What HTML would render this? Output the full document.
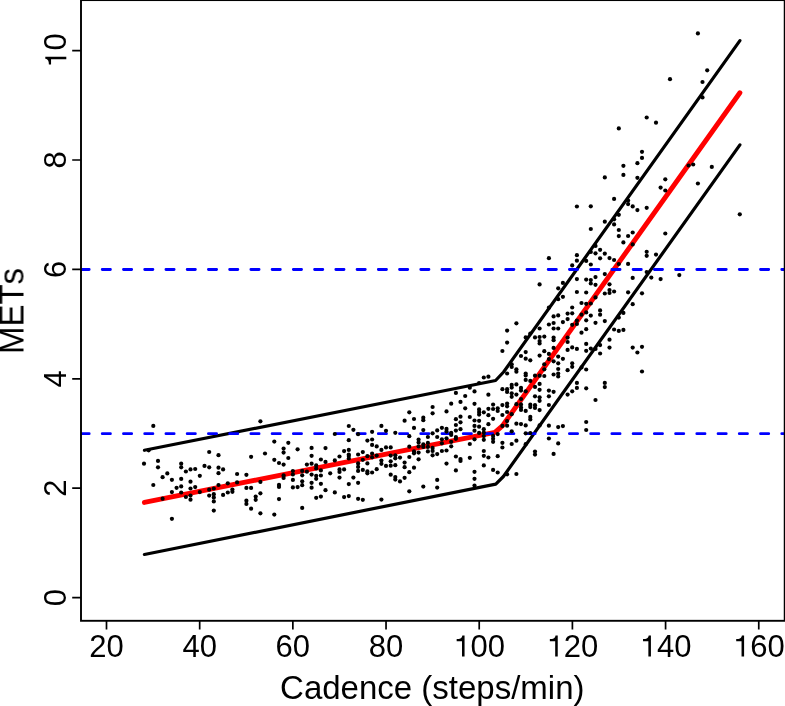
<!DOCTYPE html>
<html><head><meta charset="utf-8"><style>
html,body{margin:0;padding:0;background:#fff;width:785px;height:706px;overflow:hidden;font-family:"Liberation Sans",sans-serif;}
svg{display:block;}
text{font-kerning:none;}
.t{will-change:transform;}
</style></head><body>
<svg width="785" height="706" viewBox="0 0 785 706"><rect x="0" y="0" width="785" height="706" fill="#fff"/>
<defs><clipPath id="c"><rect x="81.0" y="0.1" width="703.7" height="620.6999999999999"/></clipPath></defs>
<g clip-path="url(#c)" fill="none" stroke-linecap="round" stroke-linejoin="round">
<polyline points="144.40,450.30 495.60,380.50 503.60,372.00 739.90,40.65" stroke="#000" stroke-width="3.2"/>
<polyline points="144.40,554.50 495.80,484.10 503.40,476.50 739.90,144.85" stroke="#000" stroke-width="3.2"/>
<polyline points="144.40,502.40 494.90,432.30 502.40,425.80 739.90,92.75" stroke="#f00" stroke-width="4.9"/>
<line x1="81.0" y1="433.70" x2="804.7" y2="433.70" stroke="#00f" stroke-width="2.8" stroke-dasharray="8.2 13.035"/>
<line x1="81.0" y1="269.50" x2="804.7" y2="269.50" stroke="#00f" stroke-width="2.8" stroke-dasharray="8.2 13.035"/>
</g>
<g fill="#000" clip-path="url(#c)"><circle cx="153.3" cy="425.9" r="2.1"/><circle cx="148.7" cy="450.3" r="2.1"/><circle cx="144.0" cy="463.7" r="2.1"/><circle cx="158.0" cy="460.9" r="2.1"/><circle cx="158.0" cy="467.3" r="2.1"/><circle cx="153.3" cy="485.0" r="2.1"/><circle cx="162.6" cy="477.2" r="2.1"/><circle cx="167.3" cy="473.4" r="2.1"/><circle cx="171.9" cy="479.8" r="2.1"/><circle cx="171.9" cy="492.1" r="2.1"/><circle cx="162.6" cy="498.7" r="2.1"/><circle cx="181.2" cy="463.7" r="2.1"/><circle cx="181.2" cy="467.3" r="2.1"/><circle cx="181.2" cy="478.9" r="2.1"/><circle cx="181.2" cy="486.4" r="2.1"/><circle cx="181.2" cy="492.5" r="2.1"/><circle cx="176.6" cy="487.8" r="2.1"/><circle cx="185.9" cy="471.5" r="2.1"/><circle cx="190.5" cy="469.4" r="2.1"/><circle cx="195.2" cy="469.0" r="2.1"/><circle cx="190.5" cy="481.7" r="2.1"/><circle cx="190.5" cy="488.5" r="2.1"/><circle cx="190.5" cy="495.6" r="2.1"/><circle cx="185.9" cy="497.0" r="2.1"/><circle cx="195.2" cy="487.1" r="2.1"/><circle cx="199.8" cy="475.8" r="2.1"/><circle cx="199.8" cy="492.1" r="2.1"/><circle cx="204.5" cy="465.9" r="2.1"/><circle cx="209.2" cy="467.3" r="2.1"/><circle cx="209.2" cy="452.0" r="2.1"/><circle cx="218.5" cy="455.2" r="2.1"/><circle cx="218.5" cy="467.7" r="2.1"/><circle cx="223.1" cy="469.4" r="2.1"/><circle cx="218.5" cy="473.2" r="2.1"/><circle cx="218.5" cy="485.0" r="2.1"/><circle cx="209.2" cy="489.7" r="2.1"/><circle cx="213.8" cy="488.5" r="2.1"/><circle cx="209.2" cy="495.6" r="2.1"/><circle cx="213.8" cy="494.2" r="2.1"/><circle cx="213.8" cy="497.4" r="2.1"/><circle cx="223.1" cy="494.9" r="2.1"/><circle cx="227.8" cy="483.3" r="2.1"/><circle cx="227.8" cy="492.5" r="2.1"/><circle cx="190.5" cy="499.7" r="2.1"/><circle cx="171.9" cy="518.8" r="2.1"/><circle cx="213.8" cy="510.6" r="2.1"/><circle cx="213.8" cy="501.4" r="2.1"/><circle cx="260.4" cy="421.3" r="2.1"/><circle cx="274.3" cy="441.6" r="2.1"/><circle cx="288.3" cy="442.8" r="2.1"/><circle cx="283.6" cy="448.6" r="2.1"/><circle cx="283.6" cy="452.6" r="2.1"/><circle cx="297.6" cy="449.3" r="2.1"/><circle cx="265.0" cy="453.5" r="2.1"/><circle cx="251.1" cy="456.8" r="2.1"/><circle cx="274.3" cy="459.8" r="2.1"/><circle cx="279.0" cy="463.0" r="2.1"/><circle cx="283.6" cy="464.6" r="2.1"/><circle cx="288.3" cy="458.0" r="2.1"/><circle cx="237.1" cy="474.0" r="2.1"/><circle cx="246.4" cy="474.8" r="2.1"/><circle cx="237.1" cy="482.4" r="2.1"/><circle cx="260.4" cy="481.9" r="2.1"/><circle cx="283.6" cy="475.4" r="2.1"/><circle cx="283.6" cy="477.9" r="2.1"/><circle cx="292.9" cy="471.0" r="2.1"/><circle cx="292.9" cy="474.5" r="2.1"/><circle cx="292.9" cy="479.9" r="2.1"/><circle cx="232.4" cy="489.6" r="2.1"/><circle cx="232.4" cy="491.8" r="2.1"/><circle cx="246.4" cy="487.9" r="2.1"/><circle cx="251.1" cy="487.9" r="2.1"/><circle cx="260.4" cy="493.3" r="2.1"/><circle cx="255.7" cy="496.6" r="2.1"/><circle cx="255.7" cy="499.8" r="2.1"/><circle cx="246.4" cy="500.7" r="2.1"/><circle cx="246.4" cy="503.9" r="2.1"/><circle cx="251.1" cy="508.7" r="2.1"/><circle cx="260.4" cy="513.3" r="2.1"/><circle cx="274.3" cy="514.6" r="2.1"/><circle cx="279.0" cy="484.9" r="2.1"/><circle cx="279.0" cy="486.9" r="2.1"/><circle cx="279.0" cy="499.1" r="2.1"/><circle cx="292.9" cy="487.4" r="2.1"/><circle cx="297.6" cy="487.1" r="2.1"/><circle cx="348.8" cy="426.0" r="2.1"/><circle cx="353.4" cy="429.8" r="2.1"/><circle cx="334.8" cy="434.0" r="2.1"/><circle cx="358.1" cy="434.2" r="2.1"/><circle cx="348.8" cy="440.2" r="2.1"/><circle cx="367.4" cy="440.6" r="2.1"/><circle cx="311.6" cy="447.9" r="2.1"/><circle cx="325.5" cy="448.1" r="2.1"/><circle cx="344.1" cy="451.1" r="2.1"/><circle cx="348.8" cy="449.9" r="2.1"/><circle cx="348.8" cy="454.5" r="2.1"/><circle cx="362.8" cy="452.1" r="2.1"/><circle cx="358.1" cy="454.5" r="2.1"/><circle cx="311.6" cy="455.8" r="2.1"/><circle cx="339.5" cy="456.5" r="2.1"/><circle cx="348.8" cy="456.0" r="2.1"/><circle cx="348.8" cy="458.5" r="2.1"/><circle cx="367.4" cy="456.2" r="2.1"/><circle cx="320.9" cy="459.5" r="2.1"/><circle cx="325.5" cy="461.9" r="2.1"/><circle cx="334.8" cy="460.4" r="2.1"/><circle cx="306.9" cy="464.6" r="2.1"/><circle cx="311.6" cy="463.7" r="2.1"/><circle cx="316.2" cy="465.4" r="2.1"/><circle cx="316.2" cy="468.4" r="2.1"/><circle cx="320.9" cy="470.4" r="2.1"/><circle cx="302.2" cy="470.9" r="2.1"/><circle cx="302.2" cy="475.3" r="2.1"/><circle cx="306.9" cy="471.7" r="2.1"/><circle cx="311.6" cy="474.6" r="2.1"/><circle cx="316.2" cy="475.8" r="2.1"/><circle cx="316.2" cy="478.8" r="2.1"/><circle cx="320.9" cy="475.5" r="2.1"/><circle cx="330.2" cy="473.3" r="2.1"/><circle cx="339.5" cy="469.4" r="2.1"/><circle cx="339.5" cy="471.9" r="2.1"/><circle cx="344.1" cy="469.4" r="2.1"/><circle cx="339.5" cy="477.6" r="2.1"/><circle cx="353.4" cy="477.6" r="2.1"/><circle cx="358.1" cy="463.4" r="2.1"/><circle cx="358.1" cy="466.9" r="2.1"/><circle cx="358.1" cy="470.9" r="2.1"/><circle cx="362.8" cy="459.8" r="2.1"/><circle cx="362.8" cy="469.9" r="2.1"/><circle cx="367.4" cy="463.4" r="2.1"/><circle cx="367.4" cy="471.4" r="2.1"/><circle cx="367.4" cy="473.3" r="2.1"/><circle cx="302.2" cy="481.3" r="2.1"/><circle cx="302.2" cy="485.2" r="2.1"/><circle cx="311.6" cy="482.8" r="2.1"/><circle cx="311.6" cy="487.7" r="2.1"/><circle cx="320.9" cy="483.8" r="2.1"/><circle cx="325.5" cy="490.2" r="2.1"/><circle cx="334.8" cy="492.4" r="2.1"/><circle cx="348.8" cy="484.1" r="2.1"/><circle cx="358.1" cy="482.8" r="2.1"/><circle cx="316.2" cy="497.8" r="2.1"/><circle cx="320.9" cy="496.6" r="2.1"/><circle cx="344.1" cy="497.1" r="2.1"/><circle cx="348.8" cy="496.1" r="2.1"/><circle cx="358.1" cy="498.8" r="2.1"/><circle cx="362.8" cy="499.8" r="2.1"/><circle cx="302.2" cy="507.9" r="2.1"/><circle cx="432.6" cy="407.0" r="2.1"/><circle cx="432.6" cy="413.3" r="2.1"/><circle cx="409.3" cy="412.3" r="2.1"/><circle cx="414.0" cy="419.0" r="2.1"/><circle cx="423.3" cy="417.7" r="2.1"/><circle cx="423.3" cy="420.2" r="2.1"/><circle cx="404.6" cy="420.7" r="2.1"/><circle cx="381.4" cy="425.9" r="2.1"/><circle cx="414.0" cy="427.9" r="2.1"/><circle cx="372.1" cy="431.8" r="2.1"/><circle cx="386.0" cy="430.8" r="2.1"/><circle cx="395.3" cy="432.8" r="2.1"/><circle cx="423.3" cy="430.1" r="2.1"/><circle cx="432.6" cy="433.3" r="2.1"/><circle cx="437.2" cy="430.4" r="2.1"/><circle cx="409.3" cy="436.2" r="2.1"/><circle cx="427.9" cy="437.0" r="2.1"/><circle cx="437.2" cy="437.0" r="2.1"/><circle cx="372.1" cy="439.5" r="2.1"/><circle cx="418.6" cy="439.5" r="2.1"/><circle cx="418.6" cy="442.4" r="2.1"/><circle cx="418.6" cy="446.4" r="2.1"/><circle cx="423.3" cy="444.4" r="2.1"/><circle cx="423.3" cy="446.9" r="2.1"/><circle cx="427.9" cy="442.9" r="2.1"/><circle cx="427.9" cy="446.9" r="2.1"/><circle cx="372.1" cy="444.9" r="2.1"/><circle cx="376.7" cy="446.4" r="2.1"/><circle cx="381.4" cy="449.9" r="2.1"/><circle cx="386.0" cy="447.4" r="2.1"/><circle cx="390.7" cy="447.4" r="2.1"/><circle cx="409.3" cy="446.7" r="2.1"/><circle cx="432.6" cy="447.9" r="2.1"/><circle cx="432.6" cy="450.9" r="2.1"/><circle cx="427.9" cy="451.4" r="2.1"/><circle cx="414.0" cy="451.4" r="2.1"/><circle cx="414.0" cy="453.3" r="2.1"/><circle cx="418.6" cy="452.6" r="2.1"/><circle cx="432.6" cy="455.3" r="2.1"/><circle cx="437.2" cy="454.1" r="2.1"/><circle cx="372.1" cy="453.6" r="2.1"/><circle cx="372.1" cy="457.3" r="2.1"/><circle cx="376.7" cy="455.6" r="2.1"/><circle cx="390.7" cy="455.6" r="2.1"/><circle cx="395.3" cy="455.3" r="2.1"/><circle cx="395.3" cy="458.3" r="2.1"/><circle cx="400.0" cy="457.6" r="2.1"/><circle cx="409.3" cy="457.0" r="2.1"/><circle cx="418.6" cy="459.3" r="2.1"/><circle cx="381.4" cy="460.6" r="2.1"/><circle cx="381.4" cy="463.8" r="2.1"/><circle cx="390.7" cy="461.3" r="2.1"/><circle cx="390.7" cy="465.7" r="2.1"/><circle cx="386.0" cy="465.9" r="2.1"/><circle cx="395.3" cy="465.2" r="2.1"/><circle cx="404.6" cy="462.6" r="2.1"/><circle cx="404.6" cy="467.2" r="2.1"/><circle cx="414.0" cy="467.7" r="2.1"/><circle cx="376.7" cy="469.2" r="2.1"/><circle cx="372.1" cy="472.5" r="2.1"/><circle cx="409.3" cy="472.2" r="2.1"/><circle cx="390.7" cy="474.7" r="2.1"/><circle cx="395.3" cy="477.1" r="2.1"/><circle cx="395.3" cy="479.6" r="2.1"/><circle cx="400.0" cy="481.4" r="2.1"/><circle cx="404.6" cy="477.8" r="2.1"/><circle cx="437.2" cy="479.9" r="2.1"/><circle cx="423.3" cy="486.6" r="2.1"/><circle cx="437.2" cy="487.6" r="2.1"/><circle cx="409.3" cy="491.3" r="2.1"/><circle cx="381.4" cy="499.6" r="2.1"/><circle cx="507.1" cy="330.6" r="2.1"/><circle cx="507.1" cy="342.6" r="2.1"/><circle cx="507.1" cy="373.5" r="2.1"/><circle cx="507.1" cy="389.2" r="2.1"/><circle cx="507.1" cy="391.9" r="2.1"/><circle cx="507.1" cy="403.6" r="2.1"/><circle cx="507.1" cy="406.3" r="2.1"/><circle cx="507.1" cy="412.0" r="2.1"/><circle cx="507.1" cy="474.3" r="2.1"/><circle cx="507.1" cy="421.1" r="2.1"/><circle cx="507.1" cy="425.7" r="2.1"/><circle cx="502.4" cy="351.0" r="2.1"/><circle cx="502.4" cy="389.2" r="2.1"/><circle cx="502.4" cy="405.1" r="2.1"/><circle cx="502.4" cy="415.0" r="2.1"/><circle cx="502.4" cy="425.9" r="2.1"/><circle cx="502.4" cy="442.8" r="2.1"/><circle cx="502.4" cy="447.5" r="2.1"/><circle cx="483.8" cy="377.5" r="2.1"/><circle cx="483.8" cy="412.3" r="2.1"/><circle cx="483.8" cy="429.2" r="2.1"/><circle cx="483.8" cy="432.6" r="2.1"/><circle cx="483.8" cy="436.1" r="2.1"/><circle cx="483.8" cy="439.8" r="2.1"/><circle cx="483.8" cy="451.0" r="2.1"/><circle cx="483.8" cy="455.8" r="2.1"/><circle cx="483.8" cy="465.4" r="2.1"/><circle cx="488.4" cy="376.7" r="2.1"/><circle cx="488.4" cy="394.7" r="2.1"/><circle cx="488.4" cy="408.8" r="2.1"/><circle cx="488.4" cy="415.2" r="2.1"/><circle cx="488.4" cy="424.2" r="2.1"/><circle cx="488.4" cy="457.5" r="2.1"/><circle cx="479.1" cy="383.0" r="2.1"/><circle cx="479.1" cy="409.4" r="2.1"/><circle cx="479.1" cy="412.0" r="2.1"/><circle cx="479.1" cy="414.6" r="2.1"/><circle cx="479.1" cy="420.8" r="2.1"/><circle cx="479.1" cy="426.7" r="2.1"/><circle cx="479.1" cy="432.9" r="2.1"/><circle cx="455.9" cy="392.9" r="2.1"/><circle cx="455.9" cy="419.2" r="2.1"/><circle cx="455.9" cy="425.0" r="2.1"/><circle cx="455.9" cy="430.6" r="2.1"/><circle cx="455.9" cy="437.1" r="2.1"/><circle cx="455.9" cy="438.8" r="2.1"/><circle cx="455.9" cy="456.5" r="2.1"/><circle cx="455.9" cy="470.4" r="2.1"/><circle cx="465.2" cy="396.0" r="2.1"/><circle cx="465.2" cy="408.3" r="2.1"/><circle cx="460.5" cy="401.9" r="2.1"/><circle cx="460.5" cy="416.7" r="2.1"/><circle cx="460.5" cy="422.3" r="2.1"/><circle cx="460.5" cy="429.2" r="2.1"/><circle cx="460.5" cy="459.0" r="2.1"/><circle cx="460.5" cy="460.9" r="2.1"/><circle cx="451.2" cy="403.7" r="2.1"/><circle cx="451.2" cy="432.9" r="2.1"/><circle cx="451.2" cy="434.9" r="2.1"/><circle cx="451.2" cy="441.8" r="2.1"/><circle cx="451.2" cy="446.3" r="2.1"/><circle cx="446.5" cy="411.4" r="2.1"/><circle cx="446.5" cy="428.9" r="2.1"/><circle cx="446.5" cy="431.6" r="2.1"/><circle cx="446.5" cy="438.3" r="2.1"/><circle cx="446.5" cy="450.5" r="2.1"/><circle cx="446.5" cy="463.6" r="2.1"/><circle cx="469.8" cy="387.7" r="2.1"/><circle cx="469.8" cy="417.0" r="2.1"/><circle cx="469.8" cy="444.0" r="2.1"/><circle cx="469.8" cy="457.8" r="2.1"/><circle cx="474.5" cy="391.4" r="2.1"/><circle cx="474.5" cy="403.8" r="2.1"/><circle cx="474.5" cy="420.5" r="2.1"/><circle cx="474.5" cy="425.9" r="2.1"/><circle cx="474.5" cy="430.7" r="2.1"/><circle cx="474.5" cy="439.3" r="2.1"/><circle cx="474.5" cy="471.8" r="2.1"/><circle cx="474.5" cy="478.8" r="2.1"/><circle cx="474.5" cy="485.5" r="2.1"/><circle cx="493.1" cy="404.6" r="2.1"/><circle cx="493.1" cy="409.0" r="2.1"/><circle cx="493.1" cy="418.8" r="2.1"/><circle cx="493.1" cy="435.9" r="2.1"/><circle cx="493.1" cy="438.8" r="2.1"/><circle cx="493.1" cy="441.8" r="2.1"/><circle cx="493.1" cy="469.9" r="2.1"/><circle cx="497.7" cy="408.3" r="2.1"/><circle cx="497.7" cy="411.0" r="2.1"/><circle cx="497.7" cy="434.1" r="2.1"/><circle cx="497.7" cy="456.2" r="2.1"/><circle cx="497.7" cy="472.5" r="2.1"/><circle cx="441.9" cy="427.8" r="2.1"/><circle cx="441.9" cy="439.3" r="2.1"/><circle cx="441.9" cy="443.3" r="2.1"/><circle cx="441.9" cy="451.0" r="2.1"/><circle cx="511.7" cy="414.2" r="2.1"/><circle cx="511.7" cy="431.3" r="2.1"/><circle cx="511.7" cy="444.0" r="2.1"/><circle cx="511.7" cy="364.3" r="2.1"/><circle cx="511.7" cy="367.0" r="2.1"/><circle cx="511.7" cy="384.9" r="2.1"/><circle cx="511.7" cy="387.6" r="2.1"/><circle cx="511.7" cy="393.3" r="2.1"/><circle cx="511.7" cy="396.8" r="2.1"/><circle cx="530.3" cy="416.9" r="2.1"/><circle cx="530.3" cy="419.4" r="2.1"/><circle cx="530.3" cy="433.0" r="2.1"/><circle cx="530.3" cy="360.3" r="2.1"/><circle cx="530.3" cy="380.9" r="2.1"/><circle cx="530.3" cy="404.7" r="2.1"/><circle cx="530.3" cy="407.1" r="2.1"/><circle cx="530.3" cy="333.5" r="2.1"/><circle cx="516.4" cy="423.7" r="2.1"/><circle cx="516.4" cy="440.7" r="2.1"/><circle cx="516.4" cy="474.0" r="2.1"/><circle cx="516.4" cy="369.3" r="2.1"/><circle cx="516.4" cy="371.7" r="2.1"/><circle cx="516.4" cy="384.4" r="2.1"/><circle cx="516.4" cy="394.6" r="2.1"/><circle cx="516.4" cy="404.2" r="2.1"/><circle cx="516.4" cy="323.3" r="2.1"/><circle cx="521.0" cy="424.1" r="2.1"/><circle cx="521.0" cy="356.0" r="2.1"/><circle cx="521.0" cy="387.9" r="2.1"/><circle cx="521.0" cy="390.6" r="2.1"/><circle cx="521.0" cy="399.0" r="2.1"/><circle cx="521.0" cy="404.4" r="2.1"/><circle cx="521.0" cy="407.4" r="2.1"/><circle cx="521.0" cy="409.9" r="2.1"/><circle cx="525.7" cy="425.4" r="2.1"/><circle cx="525.7" cy="433.3" r="2.1"/><circle cx="525.7" cy="444.2" r="2.1"/><circle cx="525.7" cy="352.1" r="2.1"/><circle cx="525.7" cy="358.7" r="2.1"/><circle cx="525.7" cy="373.5" r="2.1"/><circle cx="525.7" cy="375.5" r="2.1"/><circle cx="525.7" cy="379.9" r="2.1"/><circle cx="525.7" cy="391.3" r="2.1"/><circle cx="525.7" cy="410.9" r="2.1"/><circle cx="525.7" cy="337.4" r="2.1"/><circle cx="539.6" cy="425.4" r="2.1"/><circle cx="539.6" cy="341.0" r="2.1"/><circle cx="539.6" cy="343.5" r="2.1"/><circle cx="539.6" cy="355.6" r="2.1"/><circle cx="539.6" cy="375.7" r="2.1"/><circle cx="539.6" cy="383.9" r="2.1"/><circle cx="539.6" cy="389.8" r="2.1"/><circle cx="539.6" cy="397.3" r="2.1"/><circle cx="539.6" cy="400.8" r="2.1"/><circle cx="539.6" cy="410.1" r="2.1"/><circle cx="539.6" cy="284.4" r="2.1"/><circle cx="539.6" cy="328.5" r="2.1"/><circle cx="539.6" cy="337.0" r="2.1"/><circle cx="548.9" cy="425.7" r="2.1"/><circle cx="548.9" cy="438.5" r="2.1"/><circle cx="548.9" cy="353.9" r="2.1"/><circle cx="548.9" cy="359.1" r="2.1"/><circle cx="548.9" cy="390.6" r="2.1"/><circle cx="548.9" cy="396.3" r="2.1"/><circle cx="548.9" cy="405.0" r="2.1"/><circle cx="548.9" cy="307.7" r="2.1"/><circle cx="548.9" cy="324.5" r="2.1"/><circle cx="548.9" cy="258.2" r="2.1"/><circle cx="558.2" cy="427.1" r="2.1"/><circle cx="558.2" cy="443.4" r="2.1"/><circle cx="558.2" cy="356.6" r="2.1"/><circle cx="558.2" cy="363.3" r="2.1"/><circle cx="558.2" cy="369.0" r="2.1"/><circle cx="558.2" cy="373.5" r="2.1"/><circle cx="558.2" cy="376.5" r="2.1"/><circle cx="558.2" cy="288.3" r="2.1"/><circle cx="558.2" cy="299.2" r="2.1"/><circle cx="558.2" cy="315.4" r="2.1"/><circle cx="558.2" cy="328.5" r="2.1"/><circle cx="562.9" cy="426.1" r="2.1"/><circle cx="562.9" cy="358.8" r="2.1"/><circle cx="562.9" cy="282.9" r="2.1"/><circle cx="562.9" cy="296.8" r="2.1"/><circle cx="562.9" cy="322.1" r="2.1"/><circle cx="535.0" cy="451.6" r="2.1"/><circle cx="535.0" cy="454.6" r="2.1"/><circle cx="535.0" cy="375.7" r="2.1"/><circle cx="535.0" cy="386.9" r="2.1"/><circle cx="535.0" cy="396.3" r="2.1"/><circle cx="535.0" cy="405.2" r="2.1"/><circle cx="535.0" cy="407.9" r="2.1"/><circle cx="535.0" cy="337.4" r="2.1"/><circle cx="553.6" cy="453.9" r="2.1"/><circle cx="553.6" cy="340.2" r="2.1"/><circle cx="553.6" cy="347.9" r="2.1"/><circle cx="553.6" cy="361.3" r="2.1"/><circle cx="553.6" cy="374.5" r="2.1"/><circle cx="553.6" cy="391.8" r="2.1"/><circle cx="553.6" cy="316.4" r="2.1"/><circle cx="553.6" cy="323.0" r="2.1"/><circle cx="553.6" cy="328.5" r="2.1"/><circle cx="553.6" cy="337.5" r="2.1"/><circle cx="544.3" cy="351.2" r="2.1"/><circle cx="544.3" cy="364.3" r="2.1"/><circle cx="544.3" cy="369.3" r="2.1"/><circle cx="544.3" cy="376.0" r="2.1"/><circle cx="544.3" cy="336.6" r="2.1"/><circle cx="567.6" cy="342.0" r="2.1"/><circle cx="567.6" cy="349.9" r="2.1"/><circle cx="567.6" cy="370.2" r="2.1"/><circle cx="567.6" cy="394.6" r="2.1"/><circle cx="567.6" cy="313.6" r="2.1"/><circle cx="567.6" cy="319.1" r="2.1"/><circle cx="567.6" cy="337.6" r="2.1"/><circle cx="572.2" cy="347.4" r="2.1"/><circle cx="572.2" cy="363.3" r="2.1"/><circle cx="572.2" cy="366.8" r="2.1"/><circle cx="572.2" cy="391.3" r="2.1"/><circle cx="572.2" cy="307.5" r="2.1"/><circle cx="572.2" cy="313.3" r="2.1"/><circle cx="572.2" cy="324.8" r="2.1"/><circle cx="572.2" cy="265.4" r="2.1"/><circle cx="576.9" cy="348.9" r="2.1"/><circle cx="576.9" cy="382.9" r="2.1"/><circle cx="576.9" cy="387.9" r="2.1"/><circle cx="576.9" cy="279.1" r="2.1"/><circle cx="576.9" cy="292.0" r="2.1"/><circle cx="576.9" cy="320.6" r="2.1"/><circle cx="576.9" cy="324.0" r="2.1"/><circle cx="576.9" cy="206.5" r="2.1"/><circle cx="576.9" cy="255.2" r="2.1"/><circle cx="576.9" cy="260.7" r="2.1"/><circle cx="586.2" cy="388.3" r="2.1"/><circle cx="586.2" cy="422.0" r="2.1"/><circle cx="586.2" cy="430.0" r="2.1"/><circle cx="586.2" cy="369.5" r="2.1"/><circle cx="586.2" cy="303.8" r="2.1"/><circle cx="586.2" cy="312.4" r="2.1"/><circle cx="586.2" cy="320.3" r="2.1"/><circle cx="586.2" cy="329.2" r="2.1"/><circle cx="586.2" cy="343.9" r="2.1"/><circle cx="586.2" cy="350.8" r="2.1"/><circle cx="586.2" cy="260.9" r="2.1"/><circle cx="586.2" cy="279.6" r="2.1"/><circle cx="586.2" cy="292.5" r="2.1"/><circle cx="604.8" cy="382.9" r="2.1"/><circle cx="604.8" cy="387.1" r="2.1"/><circle cx="604.8" cy="321.1" r="2.1"/><circle cx="604.8" cy="253.6" r="2.1"/><circle cx="604.8" cy="274.1" r="2.1"/><circle cx="604.8" cy="293.5" r="2.1"/><circle cx="604.8" cy="177.4" r="2.1"/><circle cx="604.8" cy="221.7" r="2.1"/><circle cx="595.5" cy="400.0" r="2.1"/><circle cx="595.5" cy="322.8" r="2.1"/><circle cx="595.5" cy="348.9" r="2.1"/><circle cx="595.5" cy="245.9" r="2.1"/><circle cx="595.5" cy="253.3" r="2.1"/><circle cx="595.5" cy="277.1" r="2.1"/><circle cx="595.5" cy="284.8" r="2.1"/><circle cx="595.5" cy="297.4" r="2.1"/><circle cx="642.0" cy="371.5" r="2.1"/><circle cx="642.0" cy="346.8" r="2.1"/><circle cx="642.0" cy="293.3" r="2.1"/><circle cx="642.0" cy="151.8" r="2.1"/><circle cx="642.0" cy="157.9" r="2.1"/><circle cx="581.5" cy="303.0" r="2.1"/><circle cx="581.5" cy="314.7" r="2.1"/><circle cx="581.5" cy="332.7" r="2.1"/><circle cx="581.5" cy="367.4" r="2.1"/><circle cx="590.8" cy="303.5" r="2.1"/><circle cx="590.8" cy="315.6" r="2.1"/><circle cx="590.8" cy="348.6" r="2.1"/><circle cx="590.8" cy="252.0" r="2.1"/><circle cx="590.8" cy="264.5" r="2.1"/><circle cx="590.8" cy="280.1" r="2.1"/><circle cx="590.8" cy="283.5" r="2.1"/><circle cx="590.8" cy="206.3" r="2.1"/><circle cx="590.8" cy="229.0" r="2.1"/><circle cx="600.1" cy="310.4" r="2.1"/><circle cx="600.1" cy="314.7" r="2.1"/><circle cx="600.1" cy="345.1" r="2.1"/><circle cx="600.1" cy="353.5" r="2.1"/><circle cx="600.1" cy="249.8" r="2.1"/><circle cx="600.1" cy="258.3" r="2.1"/><circle cx="618.8" cy="317.6" r="2.1"/><circle cx="618.8" cy="330.9" r="2.1"/><circle cx="618.8" cy="236.1" r="2.1"/><circle cx="618.8" cy="264.0" r="2.1"/><circle cx="618.8" cy="214.8" r="2.1"/><circle cx="618.8" cy="230.0" r="2.1"/><circle cx="618.8" cy="128.4" r="2.1"/><circle cx="623.4" cy="312.9" r="2.1"/><circle cx="623.4" cy="329.9" r="2.1"/><circle cx="623.4" cy="242.4" r="2.1"/><circle cx="623.4" cy="165.8" r="2.1"/><circle cx="623.4" cy="174.9" r="2.1"/><circle cx="632.7" cy="304.2" r="2.1"/><circle cx="632.7" cy="347.6" r="2.1"/><circle cx="632.7" cy="232.5" r="2.1"/><circle cx="632.7" cy="244.4" r="2.1"/><circle cx="632.7" cy="277.9" r="2.1"/><circle cx="632.7" cy="206.4" r="2.1"/><circle cx="614.1" cy="329.5" r="2.1"/><circle cx="614.1" cy="260.0" r="2.1"/><circle cx="614.1" cy="291.5" r="2.1"/><circle cx="614.1" cy="198.9" r="2.1"/><circle cx="614.1" cy="219.3" r="2.1"/><circle cx="614.1" cy="224.4" r="2.1"/><circle cx="609.5" cy="339.7" r="2.1"/><circle cx="609.5" cy="347.6" r="2.1"/><circle cx="609.5" cy="258.1" r="2.1"/><circle cx="609.5" cy="284.3" r="2.1"/><circle cx="609.5" cy="290.0" r="2.1"/><circle cx="609.5" cy="293.0" r="2.1"/><circle cx="637.4" cy="352.5" r="2.1"/><circle cx="637.4" cy="163.2" r="2.1"/><circle cx="637.4" cy="177.8" r="2.1"/><circle cx="637.4" cy="210.1" r="2.1"/><circle cx="628.1" cy="236.0" r="2.1"/><circle cx="628.1" cy="263.9" r="2.1"/><circle cx="628.1" cy="292.3" r="2.1"/><circle cx="628.1" cy="200.6" r="2.1"/><circle cx="628.1" cy="204.1" r="2.1"/><circle cx="646.7" cy="251.8" r="2.1"/><circle cx="646.7" cy="255.8" r="2.1"/><circle cx="646.7" cy="272.1" r="2.1"/><circle cx="646.7" cy="207.8" r="2.1"/><circle cx="646.7" cy="117.5" r="2.1"/><circle cx="697.9" cy="33.4" r="2.1"/><circle cx="697.9" cy="183.5" r="2.1"/><circle cx="707.2" cy="70.3" r="2.1"/><circle cx="670.0" cy="79.2" r="2.1"/><circle cx="702.5" cy="82.0" r="2.1"/><circle cx="702.5" cy="97.4" r="2.1"/><circle cx="656.0" cy="122.7" r="2.1"/><circle cx="656.0" cy="254.6" r="2.1"/><circle cx="688.6" cy="165.5" r="2.1"/><circle cx="693.2" cy="164.5" r="2.1"/><circle cx="711.8" cy="166.9" r="2.1"/><circle cx="665.3" cy="179.3" r="2.1"/><circle cx="665.3" cy="190.5" r="2.1"/><circle cx="665.3" cy="233.5" r="2.1"/><circle cx="660.6" cy="187.6" r="2.1"/><circle cx="660.6" cy="279.1" r="2.1"/><circle cx="651.3" cy="277.6" r="2.1"/><circle cx="679.3" cy="275.1" r="2.1"/><circle cx="739.8" cy="214.3" r="2.1"/></g>
<rect x="81.0" y="0.1" width="703.7" height="620.6999999999999" fill="none" stroke="#000" stroke-width="1.9"/>
<path d="M106.50,620.8V629.5999999999999M199.68,620.8V629.5999999999999M292.86,620.8V629.5999999999999M386.04,620.8V629.5999999999999M479.22,620.8V629.5999999999999M572.40,620.8V629.5999999999999M665.58,620.8V629.5999999999999M758.76,620.8V629.5999999999999M81.0,597.60H72.2M81.0,488.20H72.2M81.0,378.80H72.2M81.0,269.40H72.2M81.0,160.00H72.2M81.0,50.60H72.2" stroke="#000" stroke-width="1.7" fill="none"/>
<g class="t" font-family="Liberation Sans, sans-serif" font-size="31" fill="#000"><text x="89.26" y="656.50">2</text><text x="106.50" y="656.50">0</text><text x="182.44" y="656.50">4</text><text x="199.68" y="656.50">0</text><text x="275.62" y="656.50">6</text><text x="292.86" y="656.50">0</text><text x="368.80" y="656.50">8</text><text x="386.04" y="656.50">0</text><g transform="translate(453.37,656.50)"><path d="M8.64,0H11.19V-21.0H9.0C8.6,-19.3 8.0,-17.9 5.5,-17.6L3.3,-17.4V-15.25H8.64Z"/></g><text x="470.60" y="656.50">0</text><text x="487.84" y="656.50">0</text><g transform="translate(546.55,656.50)"><path d="M8.64,0H11.19V-21.0H9.0C8.6,-19.3 8.0,-17.9 5.5,-17.6L3.3,-17.4V-15.25H8.64Z"/></g><text x="563.78" y="656.50">2</text><text x="581.02" y="656.50">0</text><g transform="translate(639.73,656.50)"><path d="M8.64,0H11.19V-21.0H9.0C8.6,-19.3 8.0,-17.9 5.5,-17.6L3.3,-17.4V-15.25H8.64Z"/></g><text x="656.96" y="656.50">4</text><text x="674.20" y="656.50">0</text><g transform="translate(732.91,656.50)"><path d="M8.64,0H11.19V-21.0H9.0C8.6,-19.3 8.0,-17.9 5.5,-17.6L3.3,-17.4V-15.25H8.64Z"/></g><text x="750.14" y="656.50">6</text><text x="767.38" y="656.50">0</text><g transform="translate(66.3,597.60) rotate(-90)"><text x="-8.62" y="0.00">0</text></g><g transform="translate(66.3,488.20) rotate(-90)"><text x="-8.62" y="0.00">2</text></g><g transform="translate(66.3,378.80) rotate(-90)"><text x="-8.62" y="0.00">4</text></g><g transform="translate(66.3,269.40) rotate(-90)"><text x="-8.62" y="0.00">6</text></g><g transform="translate(66.3,160.00) rotate(-90)"><text x="-8.62" y="0.00">8</text></g><g transform="translate(66.3,50.60) rotate(-90)"><g transform="translate(-17.24,0.00)"><path d="M8.64,0H11.19V-21.0H9.0C8.6,-19.3 8.0,-17.9 5.5,-17.6L3.3,-17.4V-15.25H8.64Z"/></g><text x="0.00" y="0.00">0</text></g></g>
<text class="t" x="432.3" y="699.1" text-anchor="middle" font-family="Liberation Sans, sans-serif" font-size="33">Cadence (steps/min)</text>
<text class="t" transform="translate(23.7,311) rotate(-90) scale(1,1.04)" text-anchor="middle" font-family="Liberation Sans, sans-serif" font-size="33">METs</text></svg>
</body></html>
